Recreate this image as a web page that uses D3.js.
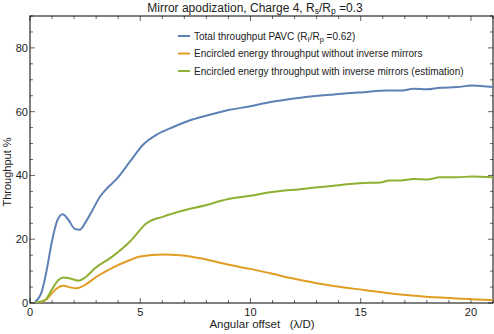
<!DOCTYPE html>
<html><head><meta charset="utf-8">
<script src="https://cdn.jsdelivr.net/npm/d3@7"></script>
<style>body{margin:0;background:#fff}svg{display:block;font-family:"Liberation Sans",Arial,sans-serif}</style>
</head><body><svg id="c" width="494" height="334"></svg>
<script>
const blueX = [0.23,0.53,0.76,0.98,1.24,1.48,1.74,2.04,2.27,2.5,2.8,3.18,3.5,3.93,4.54,5.14,5.75,6.5,7.26,8.02,9.0,9.99,10.9,12.26,13.77,15.13,16.19,16.8,17.4,18.0,18.6,19.37,20.05,21.0];
const blueY = [0.4,3.5,10.4,18.8,25.9,27.8,26.1,23.2,23.0,25.1,28.7,33.4,36,38.9,44.4,49.7,52.8,55.2,57.3,58.8,60.5,61.7,63.0,64.4,65.4,66.1,66.6,66.6,67.2,67.0,67.5,67.7,68.2,67.7];
const greenX = [0.23,0.68,0.98,1.29,1.51,1.82,2.2,2.5,2.95,3.7,4.54,5.3,6.05,6.96,7.87,9.0,9.99,10.9,12.26,13.77,15.13,15.9,16.3,16.8,17.4,18.0,18.6,19.37,20.05,21.0];
const greenY = [0.1,0.9,4.1,7.2,8.0,7.7,7.0,8.0,10.9,14.4,19.3,25.1,27.1,29.0,30.5,32.6,33.6,34.7,35.7,36.8,37.6,37.8,38.4,38.4,38.9,38.7,39.4,39.4,39.7,39.4];
const orangeX = [0.45,0.76,1.13,1.51,1.82,2.12,2.5,3.03,3.78,4.54,4.99,6.05,6.8,7.72,9.08,9.99,10.9,12.26,13.77,15.13,16.8,18.6,21.0];
const orangeY = [0.1,1.2,4.1,5.4,4.9,4.6,5.7,8.3,11.2,13.5,14.6,15.2,15.0,14.0,11.9,10.7,9.3,7.2,5.3,4.1,2.7,1.7,0.9];
const xTicks = [0,5,10,15,20];
const yTicks = [0,20,40,60,80];
const seriesNames = ["Total throughput PAVC", "Encircled energy throughput without inverse mirrors", "Encircled energy throughput with inverse mirrors (estimation)"];

const svg = d3.select("#c");
const L=30, R=493, T=16, B=303;
const x = d3.scaleLinear().domain([0,21]).range([L,R]);
const y = d3.scaleLinear().domain([0,90]).range([B,T]);
const txt = "#222";

svg.append("rect").attr("x",L).attr("y",T).attr("width",R-L).attr("height",B-T)
  .attr("fill","none").attr("stroke","#000").attr("stroke-width",1);

const xMinor = d3.range(0,22,1), yMinor = d3.range(0,91,5);
const tg = svg.append("g").attr("stroke","#000").attr("stroke-width",0.6);
xMinor.forEach(v=>{
  const len = v%5===0?5:3;
  tg.append("line").attr("x1",x(v)).attr("x2",x(v)).attr("y1",B).attr("y2",B-len);
  tg.append("line").attr("x1",x(v)).attr("x2",x(v)).attr("y1",T).attr("y2",T+len);
});
yMinor.forEach(v=>{
  const len = v%20===0?5:3;
  tg.append("line").attr("y1",y(v)).attr("y2",y(v)).attr("x1",L).attr("x2",L+len);
  tg.append("line").attr("y1",y(v)).attr("y2",y(v)).attr("x1",R).attr("x2",R-len);
});
xTicks.forEach(v=>svg.append("text").attr("x",x(v)).attr("y",B+13).attr("text-anchor","middle")
  .attr("font-size",11).attr("fill",txt).text(v));
yTicks.forEach(v=>svg.append("text").attr("x",L-2).attr("y",y(v)+4).attr("text-anchor","end")
  .attr("font-size",11).attr("fill",txt).text(v));

const line = d3.line().x(d=>x(d[0])).y(d=>y(d[1])).curve(d3.curveMonotoneX);
const series = [
  {xs:blueX, ys:blueY, c:"#5E81B5"},
  {xs:orangeX, ys:orangeY, c:"#E19C24"},
  {xs:greenX, ys:greenY, c:"#8FB032"}
];
svg.append("clipPath").attr("id","cp").append("rect").attr("x",L).attr("y",T).attr("width",R-L).attr("height",B-T);
series.forEach(s=>{
  svg.append("path").datum(s.xs.map((v,i)=>[v,s.ys[i]])).attr("d",line)
    .attr("fill","none").attr("stroke",s.c).attr("stroke-width",2).attr("clip-path","url(#cp)");
});

const t = svg.append("text").attr("x",255).attr("y",12).attr("text-anchor","middle").attr("font-size",12).attr("fill",txt);
t.append("tspan").text("Mirror apodization, Charge 4, R");
t.append("tspan").attr("font-size",8.5).attr("dy",2).text("s");
t.append("tspan").attr("dy",-2).text("/R");
t.append("tspan").attr("font-size",8.5).attr("dy",2).text("p");
t.append("tspan").attr("dy",-2).text(" =0.3");

const ly = [36,53.5,71];
series.forEach((s,i)=>{
  svg.append("line").attr("x1",178).attr("x2",190).attr("y1",ly[i]).attr("y2",ly[i]).attr("stroke",s.c).attr("stroke-width",2);
  const lt = svg.append("text").attr("x",194).attr("y",ly[i]+3.5).attr("font-size",10).attr("fill",txt);
  if(i===0){
    lt.append("tspan").text(seriesNames[0]+" (R");
    lt.append("tspan").attr("font-size",7.5).attr("dy",2).text("I");
    lt.append("tspan").attr("dy",-2).text("/R");
    lt.append("tspan").attr("font-size",7.5).attr("dy",2).text("p");
    lt.append("tspan").attr("dy",-2).text(" =0.62)");
  } else lt.text(seriesNames[i]);
});

svg.append("text").attr("x",262).attr("y",328).attr("text-anchor","middle").attr("font-size",11.5).attr("fill",txt)
  .attr("xml:space","preserve").text("Angular offset   (λ/D)");
svg.append("text").attr("transform","translate(11,172) rotate(-90)").attr("text-anchor","middle")
  .attr("font-size",11).attr("fill",txt).text("Throughput %");
</script></body></html>
